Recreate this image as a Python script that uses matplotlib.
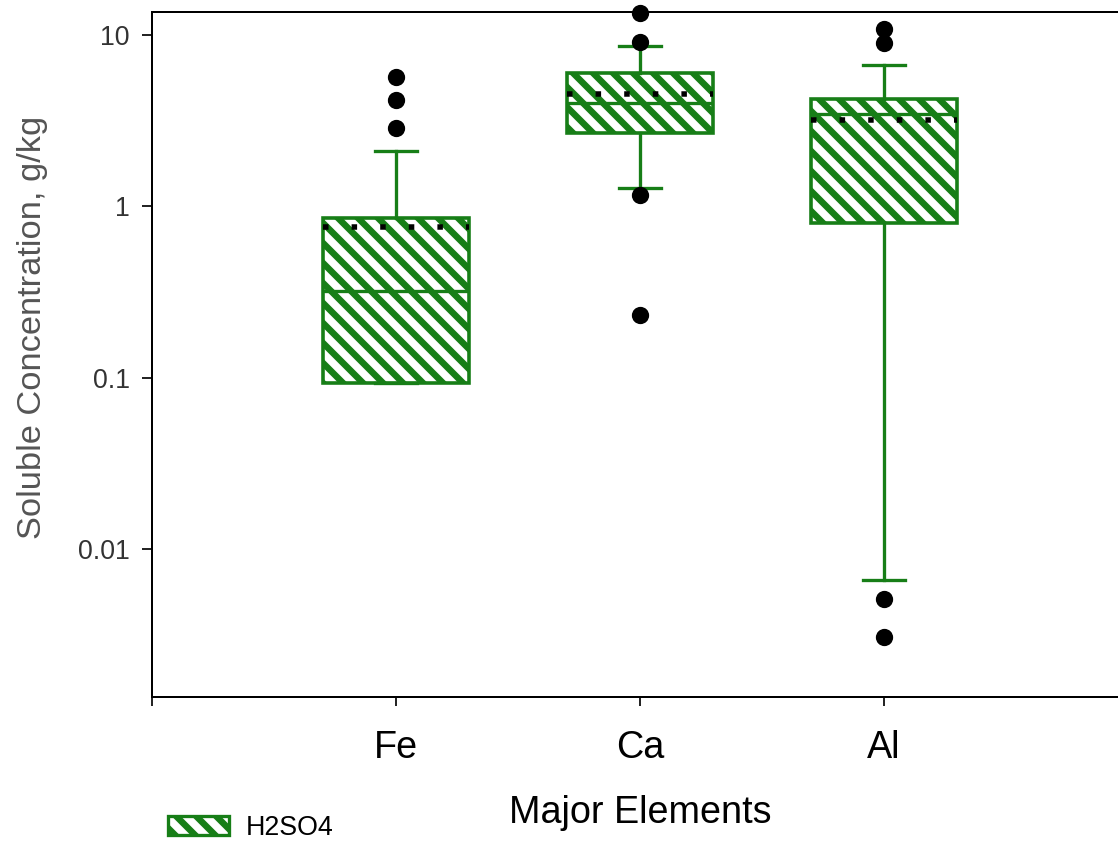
import numpy as np
import matplotlib
matplotlib.use("Agg")
from matplotlib import pyplot as plt
from matplotlib.patches import Patch

# values (g/kg, log axis)
elements = ['Fe', 'Ca', 'Al']
q1 = [0.093, 2.67, 0.796]
med = [0.32, 3.99, 3.44]
q3 = [0.85, 5.98, 4.21]
mean = [0.76, 4.51, 3.18]
whis_lo = [0.093, 1.27, 0.0066]
whis_hi = [2.1, 8.6, 6.65]
outliers = [[5.66, 4.16, 2.85],
            [13.4, 9.06, 1.16, 0.231],
            [10.8, 8.94, 0.0051, 0.00306]]

green = '#177e17'
DPI = 120
px = lambda v: v * 72 / DPI   # pixel sizes -> points

plt.rcParams['font.family'] = ['Liberation Sans', 'DejaVu Sans']
plt.rcParams['hatch.linewidth'] = px(6.5)

fig = plt.figure(figsize=(1118/DPI, 844/DPI), dpi=DPI)
ax = fig.add_axes([152/1118, 147/844, 976/1118, 685/844])

stats = []
for i in range(len(elements)):
    stats.append(dict(med=med[i], q1=q1[i], q3=q3[i], mean=mean[i],
                      whislo=whis_lo[i], whishi=whis_hi[i],
                      fliers=outliers[i], label=elements[i]))

art = ax.bxp(stats, positions=[1, 2, 3], widths=0.6, capwidths=0.17,
             patch_artist=True, showmeans=True, meanline=True,
             boxprops=dict(facecolor='white', edgecolor=green, linewidth=px(3.6), hatch='\\\\'),
             medianprops=dict(color=green, linewidth=px(3.3)),
             whiskerprops=dict(color=green, linewidth=px(3.3)),
             capprops=dict(color=green, linewidth=px(3.3)),
             meanprops=dict(color='black', linewidth=px(5.5), linestyle=(0, (1, 4.2))),
             flierprops=dict(marker='o', markerfacecolor='black', markeredgecolor='black',
                             markersize=px(15.6)))
for f in art['fliers']:
    f.set_clip_on(False)
    f.set_zorder(5)

ax.set_yscale('log')
ax.set_ylim(0.00137, 13.6)
ax.set_xlim(0, 4)
ax.set_yticks([0.01, 0.1, 1, 10], ['0.01', '0.1', '1', '10'])
ax.yaxis.set_minor_locator(matplotlib.ticker.NullLocator())
ax.set_xticks([0, 1, 2, 3, 4], ['', 'Fe', 'Ca', 'Al', ''])

ax.spines['right'].set_visible(False)
for s in ['left', 'bottom', 'top']:
    ax.spines[s].set_linewidth(px(2))
ax.tick_params(axis='y', length=px(10), width=px(1.7), pad=px(12), labelsize=px(26.7),
               labelcolor='#333333')
ax.tick_params(axis='x', length=px(9), width=px(1.7), pad=px(24.4), labelsize=px(37.8))

ax.set_xlabel('Major Elements', fontsize=px(37.8), labelpad=px(29))
ax.set_ylabel('Soluble Concentration, g/kg', fontsize=px(34.4), color='#555555')
ax.yaxis.set_label_coords(-0.107, 0.54)

handle = Patch(facecolor='white', edgecolor=green, hatch='\\\\', linewidth=px(3.3))
fig.legend([handle], ['H2SO4'], loc='center left', bbox_to_anchor=(168/1118, 16/844),
           frameon=False, fontsize=px(26.7), handlelength=2.3, handleheight=0.7,
           borderpad=0, borderaxespad=0, handletextpad=0.6)

fig.savefig('out.png', dpi=DPI)
